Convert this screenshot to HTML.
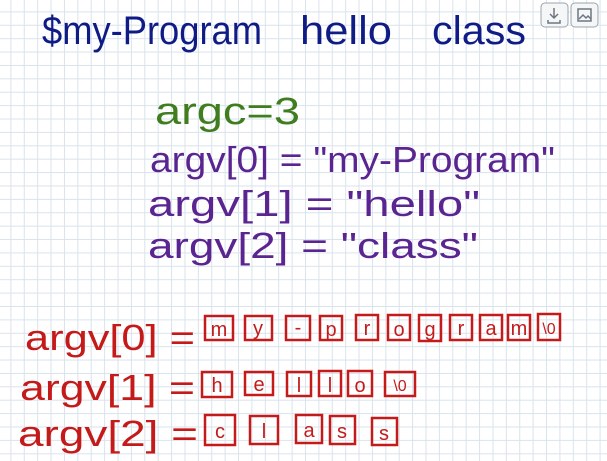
<!DOCTYPE html>
<html><head><meta charset="utf-8"><style>
html,body{margin:0;padding:0;background:#fff}
body{width:607px;height:461px;overflow:hidden;position:relative;
background-image:linear-gradient(#d9e3ec 1px,transparent 1px),linear-gradient(90deg,#d9e3ec 1px,transparent 1px);
background-size:13.4px 13.4px;background-position:-3px -2px}
svg{position:absolute;left:0;top:0}
text{font-family:"Liberation Sans",sans-serif}
</style></head><body>
<svg width="607" height="461" viewBox="0 0 607 461">
<g fill="#0f1c86" font-size="40">
<text x="42" y="44" textLength="220" lengthAdjust="spacingAndGlyphs">$my-Program</text>
<text x="300" y="44" textLength="92" lengthAdjust="spacingAndGlyphs">hello</text>
<text x="432" y="44" textLength="94" lengthAdjust="spacingAndGlyphs">class</text>
</g>
<text x="155" y="124" font-size="38" fill="#3f7d1f" textLength="145" lengthAdjust="spacingAndGlyphs">argc=3</text>
<g fill="#5a2590" font-size="36">
<text x="150" y="172" textLength="405" lengthAdjust="spacingAndGlyphs">argv[0] = "my-Program"</text>
<text x="148" y="216" textLength="332" lengthAdjust="spacingAndGlyphs">argv[1] = "hello"</text>
<text x="148" y="258" textLength="330" lengthAdjust="spacingAndGlyphs">argv[2] = "class"</text>
</g>
<g fill="#c41a1a" font-size="36">
<text x="25" y="350" textLength="170" lengthAdjust="spacingAndGlyphs">argv[0] =</text>
<text x="20" y="400" textLength="175" lengthAdjust="spacingAndGlyphs">argv[1] =</text>
<text x="18" y="446" textLength="180" lengthAdjust="spacingAndGlyphs">argv[2] =</text>
</g>
<g stroke="#c41a1a" stroke-width="2.5" fill="none">
<rect x="205" y="316" width="28" height="24"/><rect x="245" y="316" width="27" height="24"/><rect x="286" y="316" width="24" height="24"/>
<rect x="320" y="316" width="22" height="24"/><rect x="356" y="315" width="22" height="25"/><rect x="388" y="315" width="22" height="25"/>
<rect x="419" y="315" width="22" height="26"/><rect x="450" y="315" width="22" height="25"/><rect x="480" y="315" width="22" height="25"/>
<rect x="508" y="315" width="22" height="25"/><rect x="538" y="314" width="22" height="26"/>
<rect x="202" y="372" width="30" height="25"/><rect x="245" y="372" width="28" height="23"/><rect x="287" y="372" width="24" height="24"/>
<rect x="319" y="371" width="22" height="25"/><rect x="348" y="371" width="24" height="25"/><rect x="385" y="372" width="30" height="24"/>
<rect x="205" y="415" width="30" height="30"/><rect x="250" y="416" width="28" height="28"/><rect x="296" y="415" width="26" height="28"/>
<rect x="330" y="416" width="25" height="28"/><rect x="372" y="418" width="25" height="27"/>
</g>
<g fill="#c41a1a" font-size="20" text-anchor="middle">
<text x="219" y="336">m</text><text x="258" y="335">y</text><text x="298" y="334">-</text><text x="331" y="336">p</text>
<text x="367" y="335">r</text><text x="399" y="336">o</text><text x="430" y="336">g</text><text x="461" y="335">r</text>
<text x="491" y="335">a</text><text x="519" y="335">m</text><text x="549" y="334" font-size="16">\0</text>
<text x="217" y="392">h</text><text x="259" y="391">e</text><text x="299" y="392">l</text><text x="330" y="392">l</text>
<text x="360" y="392">o</text><text x="400" y="391" font-size="16">\0</text>
<text x="220" y="438">c</text><text x="264" y="438">l</text><text x="309" y="437">a</text><text x="342" y="438">s</text><text x="384" y="440">s</text>
</g>
<g stroke="#9aa4ad" stroke-width="1" fill="#f4f6f8">
<rect x="541" y="3" width="27" height="24" rx="4"/><rect x="571" y="3" width="27" height="24" rx="4"/>
</g>
<g stroke="#6d7680" stroke-width="1.5" fill="none">
<path d="M554 8v10M550 14l4 4 4-4M548 20v3h12v-3"/>
<rect x="578" y="9" width="13" height="12"/><path d="M579 19l4-4 3 3 2-2 3 3"/>
</g>
</svg>
</body></html>
